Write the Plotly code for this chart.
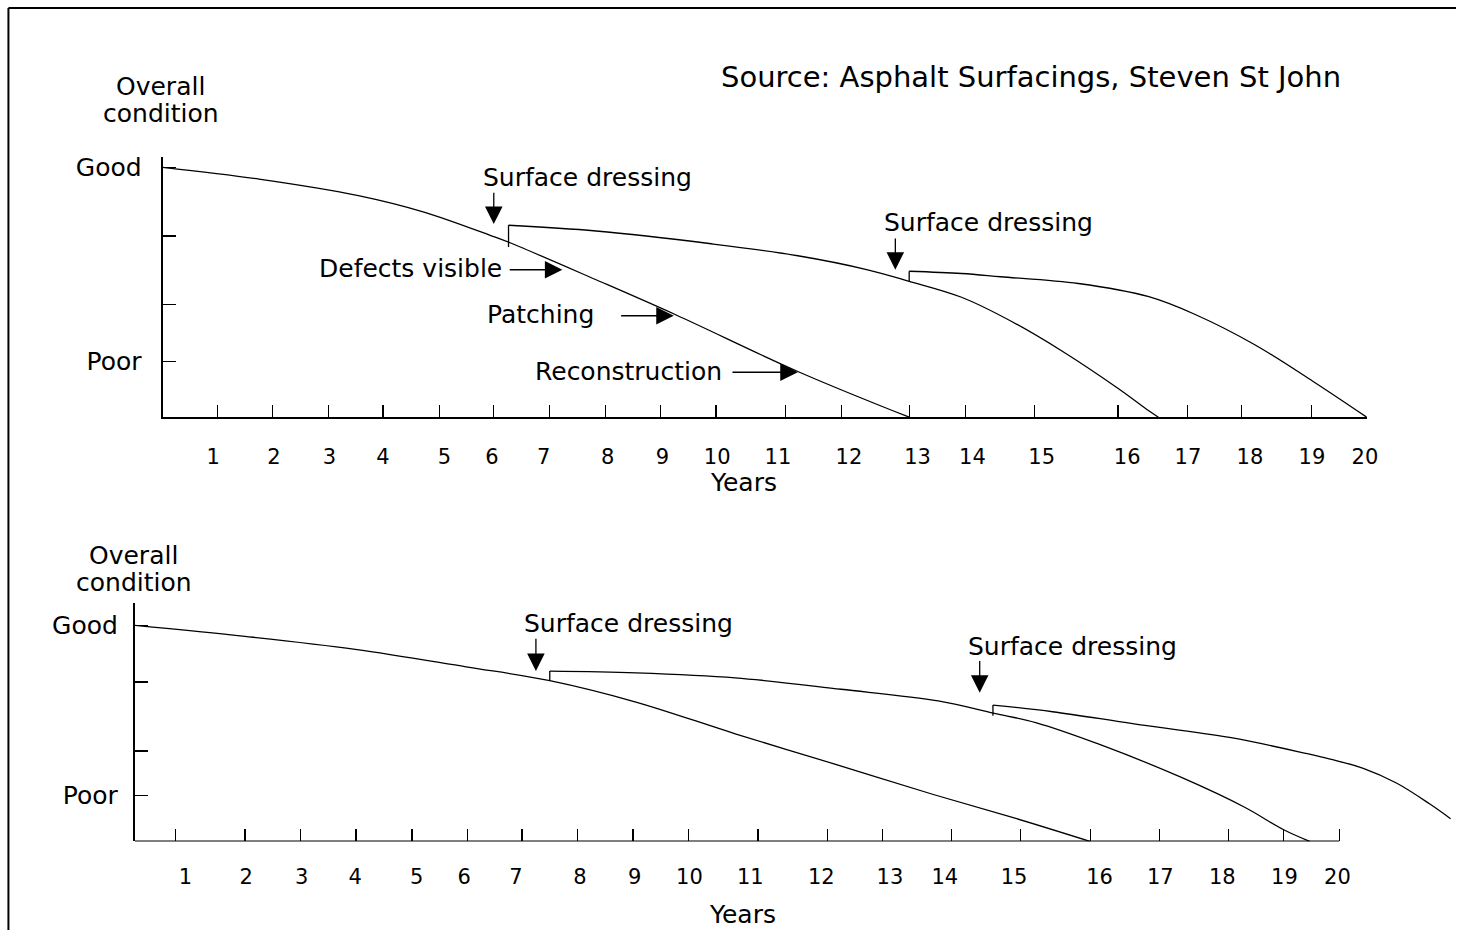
import plotly.graph_objects as go

# ---------------- data ----------------
years = list(range(1, 21))
year_labels = [str(y) for y in years]

# the source diagram draws its time axis unevenly; values below are read along
# the drawn axis (0 = origin, 20 = last tick)
label_at = [0.84, 1.85, 2.77, 3.66, 4.68, 5.47, 6.33, 7.39, 8.30, 9.21,
            10.22, 11.40, 12.54, 13.45, 14.60, 16.02, 17.03, 18.06, 19.09, 19.97]
top_tick_at = [0.91, 1.83, 2.75, 3.66, 4.60, 5.50, 6.43, 7.35, 8.27, 9.19,
               10.35, 11.27, 12.41, 13.33, 14.48, 15.87, 17.02, 17.92, 19.08, 20.0]
bot_tick_at = [0.68, 1.83, 2.75, 3.67, 4.60, 5.52, 6.43, 7.35, 8.27, 9.19,
               10.35, 11.50, 12.41, 13.56, 14.71, 15.87, 17.02, 18.16, 19.08, 20.0]

condition_labels = ["Good", "", "", "Poor"]
top_cond_at = [1.0, 0.725, 0.45, 0.223]
bot_cond_at = [1.0, 0.737, 0.419, 0.212]

# top panel: no treatment, then surface dressing twice
top_a_x = [0, 1.60, 3.25, 4.34, 5.44, 5.77, 7.20, 8.53, 10.55, 12.40]
top_a_y = [1.0, 0.953, 0.887, 0.821, 0.728, 0.698, 0.550, 0.409, 0.183, 0.0]
top_b_x = [5.745, 7.20, 9.11, 10.55, 11.71, 12.40, 13.27, 14.11, 14.95, 15.86, 16.38, 16.54]
top_b_y = [0.768, 0.745, 0.694, 0.646, 0.590, 0.544, 0.480, 0.382, 0.263, 0.117, 0.026, 0.0]
top_c_x = [12.40, 13.27, 13.92, 15.21, 16.38, 17.16, 18.14, 19.11, 20.0]
top_c_y = [0.584, 0.575, 0.562, 0.535, 0.482, 0.410, 0.290, 0.143, 0.0]
top_jump_x = [5.745, 12.40]
top_jump_lo = [0.681, 0.544]
top_jump_hi = [0.768, 0.584]

# bottom panel
bot_a_x = [0, 1.83, 3.66, 5.50, 6.89, 8.32, 9.97, 11.61, 13.26, 14.63, 15.86]
bot_a_y = [1.0, 0.949, 0.889, 0.808, 0.744, 0.645, 0.498, 0.359, 0.217, 0.106, 0.0]
bot_b_x = [6.89, 8.32, 9.97, 11.73, 13.34, 14.25, 14.96, 16.01, 17.38, 18.43, 19.07, 19.51]
bot_b_y = [0.788, 0.780, 0.757, 0.704, 0.650, 0.594, 0.550, 0.450, 0.296, 0.158, 0.055, 0.0]
bot_c_x = [14.25, 15.24, 16.57, 18.18, 19.47, 19.85, 20.40, 20.95, 21.50, 21.85]
bot_c_y = [0.631, 0.600, 0.545, 0.481, 0.406, 0.381, 0.338, 0.270, 0.174, 0.105]
bot_jump_x = [6.89, 14.25]
bot_jump_lo = [0.742, 0.581]
bot_jump_hi = [0.788, 0.631]

# ---------------- styling ----------------
FONT = "DejaVu Sans"
INK = "black"
LW = 1.3

fig = go.Figure()


def curve(x, y, xa, ya):
    fig.add_trace(go.Scatter(x=x, y=y, mode="lines", xaxis=xa, yaxis=ya,
                             line=dict(color=INK, width=LW, shape="spline", smoothing=1.0),
                             hoverinfo="skip", showlegend=False))


def jumps(xs, lo, hi, xa, ya):
    for x, a, b in zip(xs, lo, hi):
        fig.add_trace(go.Scatter(x=[x, x], y=[a, b], mode="lines", xaxis=xa, yaxis=ya,
                                 line=dict(color=INK, width=LW),
                                 hoverinfo="skip", showlegend=False))


for cx, cy in [(top_a_x, top_a_y), (top_b_x, top_b_y), (top_c_x, top_c_y)]:
    curve(cx, cy, "x", "y")
jumps(top_jump_x, top_jump_lo, top_jump_hi, "x", "y")
for cx, cy in [(bot_a_x, bot_a_y), (bot_b_x, bot_b_y), (bot_c_x, bot_c_y)]:
    curve(cx, cy, "x2", "y2")
jumps(bot_jump_x, bot_jump_lo, bot_jump_hi, "x2", "y2")

# placeholder traces so the label axes are drawn
fig.add_trace(go.Scatter(x=[None], y=[None], xaxis="x3", yaxis="y", showlegend=False, hoverinfo="skip"))
fig.add_trace(go.Scatter(x=[None], y=[None], xaxis="x4", yaxis="y2", showlegend=False, hoverinfo="skip"))

W, H = 1468, 930
top_dom_x = [164 / W, 1378 / W]
top_dom_y = [1 - 415 / H, 1 - 154 / H]
bot_dom_x = [136 / W, 1.0]
bot_dom_y = [1 - 841 / H, 1 - 602 / H]
top_xr = [0, 20]
top_yr = [0, 1.0398]
bot_xr = [0, 21.94]
bot_yr = [0, 1.1014]

tickfont = dict(family=FONT, size=21, color=INK)
ylabfont = dict(family=FONT, size=25, color=INK)

common_x = dict(showgrid=False, zeroline=False, ticks="inside", ticklen=12,
                tickwidth=1.3, tickcolor=INK, showticklabels=False, fixedrange=True)
common_y = dict(showgrid=False, zeroline=False, ticks="inside", ticklen=13,
                tickwidth=1.3, tickcolor=INK, showline=True, linewidth=2, linecolor=INK,
                tickmode="array", ticktext=condition_labels, tickfont=ylabfont, fixedrange=True)

fig.update_layout(
    width=W, height=H,
    margin=dict(l=0, r=0, t=0, b=0),
    paper_bgcolor="white", plot_bgcolor="white",
    hovermode=False,
    xaxis=dict(domain=top_dom_x, range=top_xr, anchor="y", tickmode="array",
               tickvals=top_tick_at, showline=True, linewidth=2, linecolor=INK, **common_x),
    yaxis=dict(domain=top_dom_y, range=top_yr, anchor="x", tickvals=top_cond_at,
               ticklabelstandoff=14, **common_y),
    xaxis2=dict(domain=bot_dom_x, range=bot_xr, anchor="y2", tickmode="array",
                tickvals=bot_tick_at, showline=False, **common_x),
    yaxis2=dict(domain=bot_dom_y, range=bot_yr, anchor="x2", tickvals=bot_cond_at,
                ticklabelstandoff=10, **common_y),
    xaxis3=dict(overlaying="x", anchor="y", side="bottom", range=top_xr, tickmode="array",
                tickvals=label_at, ticktext=year_labels, ticks="", showline=False,
                showgrid=False, zeroline=False, tickfont=tickfont, ticklabelstandoff=25,
                fixedrange=True),
    xaxis4=dict(overlaying="x2", anchor="y2", side="bottom", range=bot_xr, tickmode="array",
                tickvals=label_at, ticktext=year_labels, ticks="", showline=False,
                showgrid=False, zeroline=False, tickfont=tickfont, ticklabelstandoff=21,
                fixedrange=True),
)

# bottom time axis line stops at the last tick
fig.add_shape(type="line", xref="x2", yref="y2", x0=0, x1=20, y0=0, y1=0,
              line=dict(color=INK, width=2))

# frame of the original figure (top and left edges)
fig.add_shape(type="line", xref="paper", yref="paper", x0=8.5 / W, x1=1.0,
              y0=1 - 4 / H, y1=1 - 4 / H, line=dict(color=INK, width=2))
fig.add_shape(type="line", xref="paper", yref="paper", x0=8.5 / W, x1=8.5 / W,
              y0=0, y1=1 - 4 / H, line=dict(color=INK, width=2))


def text(x, y, s, xref, yref, xanchor="center", size=25):
    fig.add_annotation(x=x, y=y, text=s, xref=xref, yref=yref, showarrow=False,
                       xanchor=xanchor, yanchor="middle",
                       font=dict(family=FONT, size=size, color=INK))


def arrow(x0, y0, x1, y1, xref, yref):
    fig.add_annotation(x=x1, y=y1, ax=x0, ay=y0, xref=xref, yref=yref, axref=xref, ayref=yref,
                       text="", showarrow=True, arrowhead=2, arrowsize=2.7, arrowwidth=1.3,
                       arrowcolor=INK, standoff=0, startstandoff=0)


# top panel annotations
text(7.05, 0.960, "Surface dressing", "x", "y")
arrow(5.50, 0.904, 5.50, 0.773, "x", "y")
text(13.72, 0.781, "Surface dressing", "x", "y")
arrow(12.17, 0.721, 12.17, 0.590, "x", "y")
text(5.667, 0.594, "Defects visible", "x", "y", xanchor="right")
arrow(5.74, 0.590, 6.64, 0.590, "x", "y")
text(7.199, 0.410, "Patching", "x", "y", xanchor="right")
arrow(7.59, 0.406, 8.49, 0.406, "x", "y")
text(9.321, 0.184, "Reconstruction", "x", "y", xanchor="right")
arrow(9.44, 0.180, 10.55, 0.180, "x", "y")

# bottom panel annotations
text(8.20, 1.009, "Surface dressing", "x2", "y2")
arrow(6.66, 0.945, 6.66, 0.788, "x2", "y2")
text(15.57, 0.903, "Surface dressing", "x2", "y2")
arrow(14.03, 0.842, 14.03, 0.688, "x2", "y2")

# titles and labels (paper coordinates)
text(162 / W, 1 - 83 / H, "Overall", "paper", "paper")
text(162 / W, 1 - 110 / H, "condition", "paper", "paper")
text(135 / W, 1 - 554 / H, "Overall", "paper", "paper")
text(135 / W, 1 - 580.5 / H, "condition", "paper", "paper")
text(750 / W, 1 - 481 / H, "Years", "paper", "paper", size=25)
text(749 / W, 1 - 914 / H, "Years", "paper", "paper", size=25)
text(725 / W, 1 - 73 / H, "Source: Asphalt Surfacings, Steven St John", "paper", "paper",
     xanchor="left", size=29)

fig.write_html(
    "out.html",
    config={"displayModeBar": False, "staticPlot": True},
    post_script=(
        "document.documentElement.style.margin='0';"
        "document.documentElement.style.overflow='hidden';"
        "document.body.style.margin='0';"
        "document.body.style.overflow='hidden';"
    ),
)
